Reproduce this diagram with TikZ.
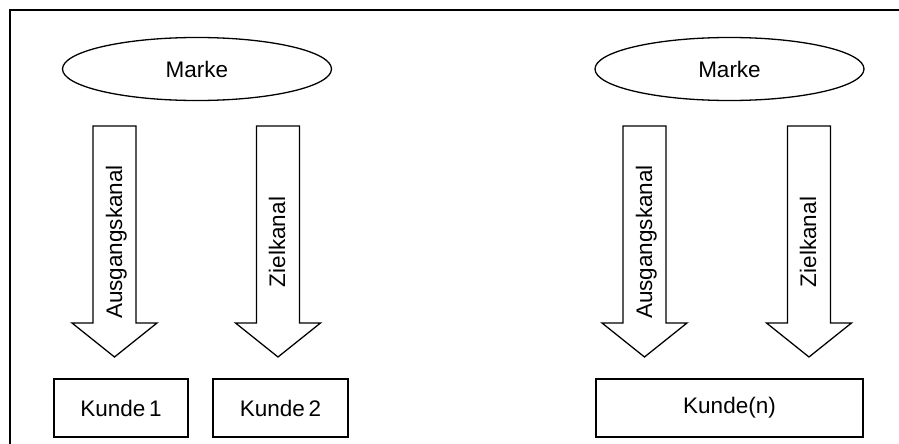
\documentclass[tikz,border=0pt]{standalone}
\usepackage{fontspec}
\setmainfont{Liberation Sans}
\usetikzlibrary{shapes.geometric}

\tikzset{
  outline/.style={draw=black, line width=1.3pt},
  brand/.style={outline, ellipse, minimum width=269pt, minimum height=63pt, inner sep=0pt},
  client/.style={outline, rectangle, minimum height=58pt, inner sep=0pt},
  channel/.style={rotate=90, anchor=base, inner sep=0pt},
  pics/blockarrow/.style={code={
    \draw[outline, line join=miter] (-21.5,0) -- (21.5,0) -- (21.5,197) -- (42.5,197)
      -- (0,231) -- (-42.5,197) -- (-21.5,197) -- cycle;
  }}
}

\begin{document}
\begin{tikzpicture}[x=1pt, y=-1pt, font=\fontsize{22.5}{27}\selectfont]
  \useasboundingbox (0,0) rectangle (899,444);

  % frame along the top and left edge
  \draw[outline] (10,444) -- (10,10) -- (899,10);

  % brands
  \node[brand] (markeA) at (197,69) {Marke};
  \node[brand] (markeB) at (729.5,69) {Marke};

  % channel arrows
  \pic at (114.5,126) {blockarrow};
  \pic at (278,126) {blockarrow};
  \pic at (644.5,126) {blockarrow};
  \pic at (809,126) {blockarrow};

  \node[channel] (ausA) at (122,242) {Ausgangskanal};
  \node[channel] (zielA) at (285,242) {Zielkanal};
  \node[channel] (ausB) at (652,242) {Ausgangskanal};
  \node[channel] (zielB) at (816,242) {Zielkanal};

  % customers
  \node[client, minimum width=134pt] (k1) at (121,408) {Kunde\,1};
  \node[client, minimum width=135pt] (k2) at (280.5,408) {Kunde\,2};
  \node[client, minimum width=267pt] (kn) at (729.5,408) {Kunde(n)};
\end{tikzpicture}
\end{document}
